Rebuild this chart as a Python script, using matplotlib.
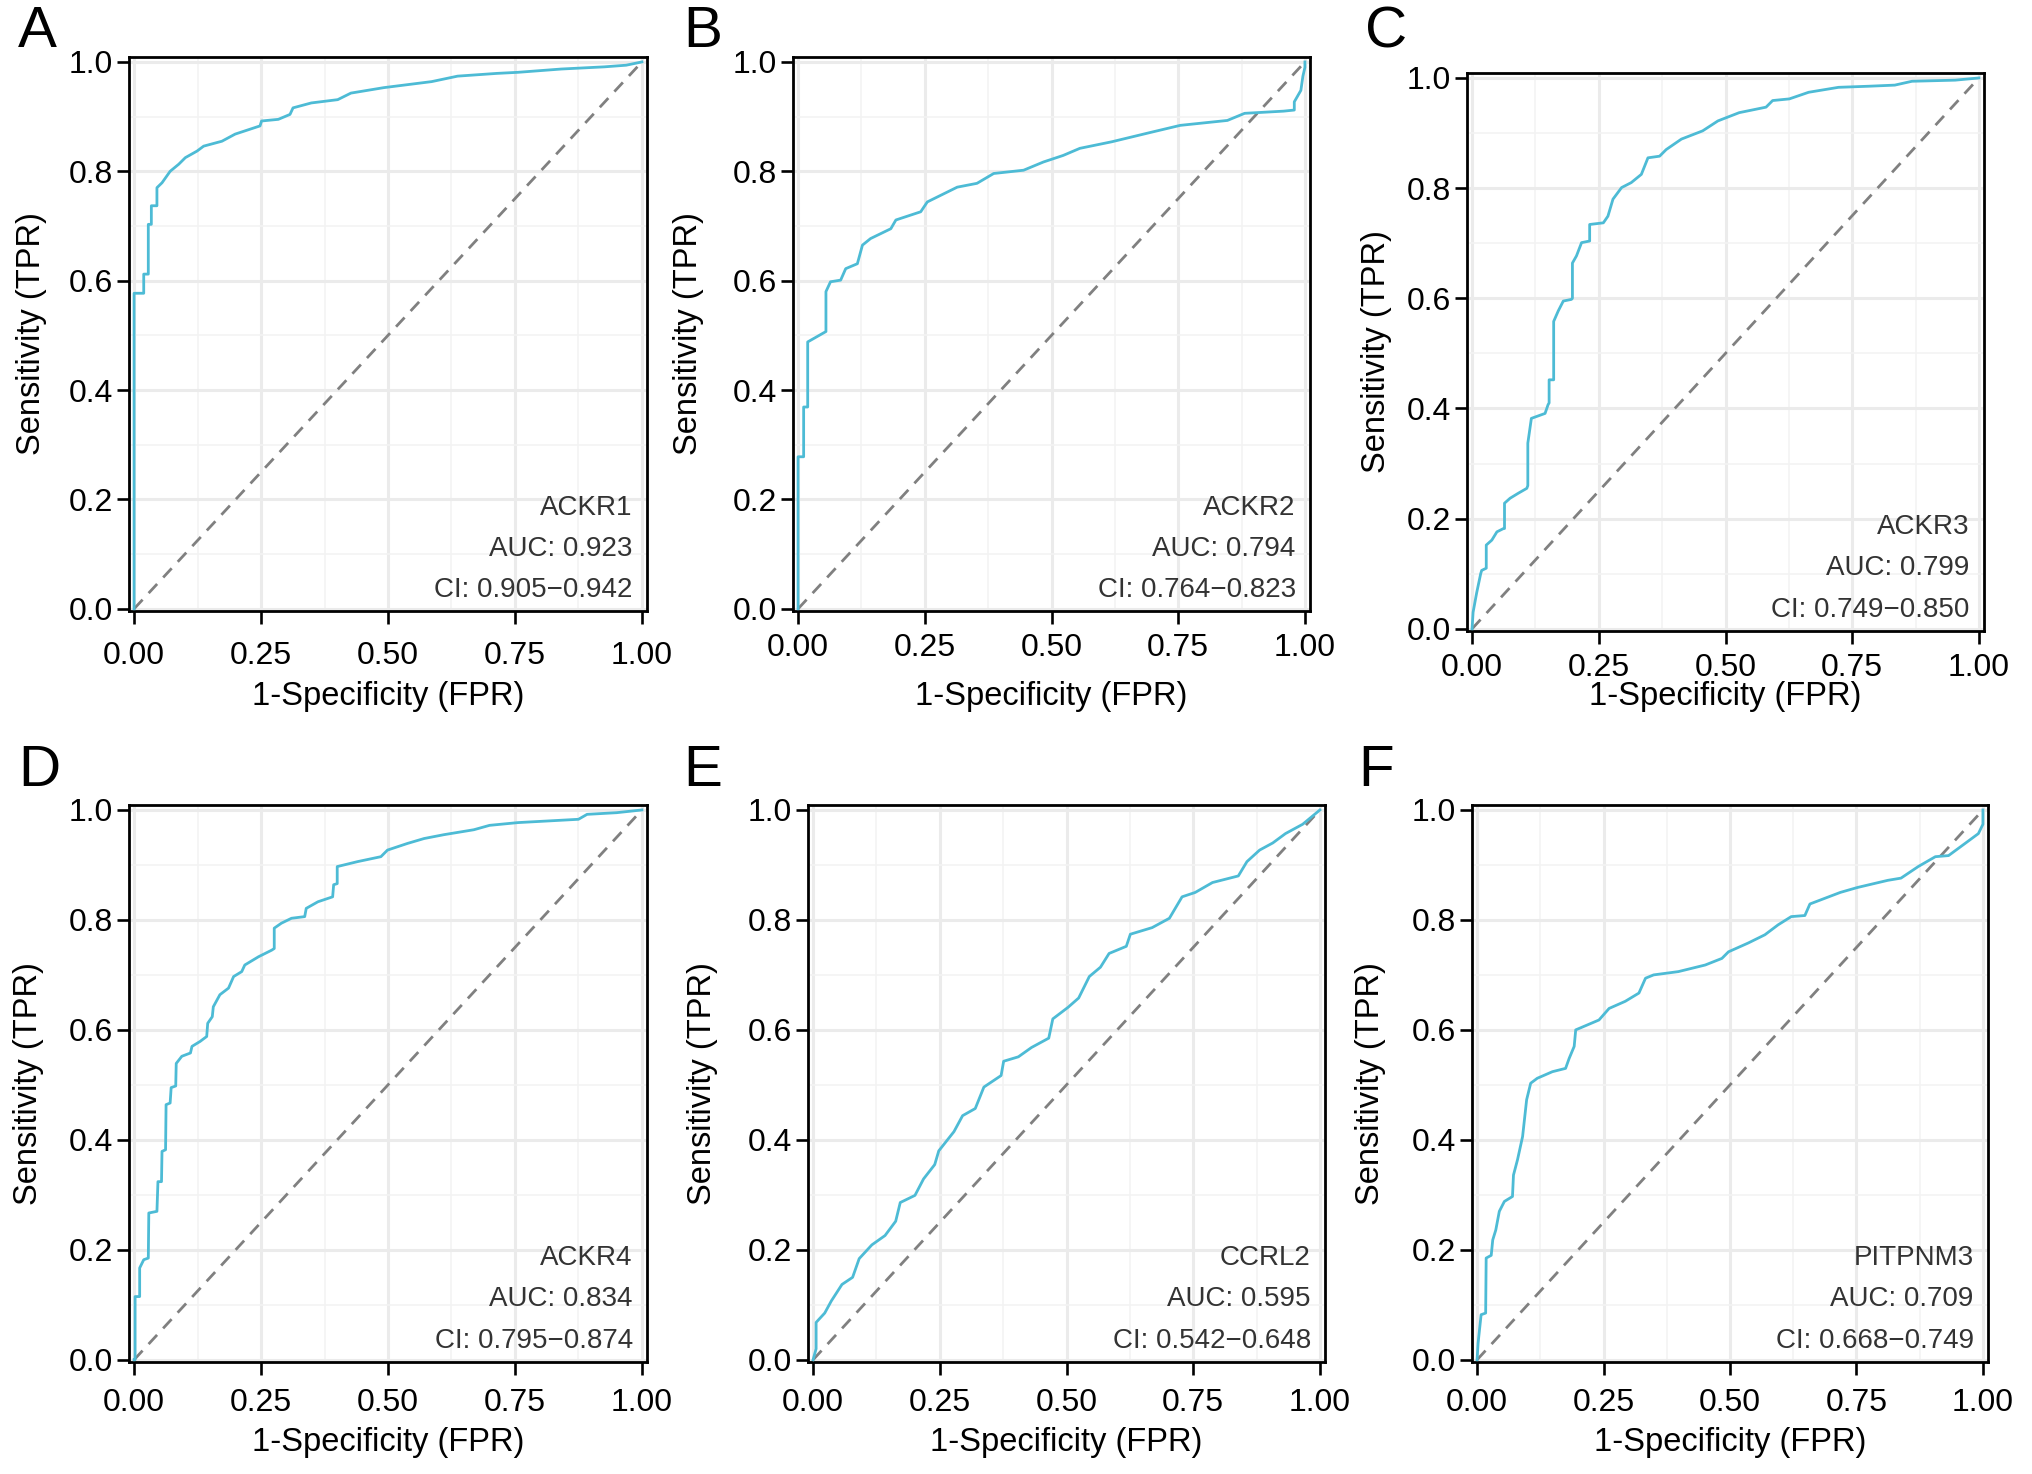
"""ROC curves of six genes (panels A-F)."""

import numpy as _np
import matplotlib
matplotlib.use('Agg')
import matplotlib.pyplot as _plt

_plt.rcParams['font.family'] = ['Liberation Sans', 'DejaVu Sans']

_W, _H = 2032, 1474
_line_color = '#4DBBD5'

# --- data ------------------------------------------------------------------
letters = ['A', 'B', 'C', 'D', 'E', 'F']
genes = ['ACKR1', 'ACKR2', 'ACKR3', 'ACKR4', 'CCRL2', 'PITPNM3']
auc = ['0.923', '0.794', '0.799', '0.834', '0.595', '0.709']
ci_low = ['0.905', '0.764', '0.749', '0.795', '0.542', '0.668']
ci_high = ['0.942', '0.823', '0.850', '0.874', '0.648', '0.749']

ackr1_fpr = [0, 0, 0.019, 0.019, 0.028, 0.028, 0.034, 0.034, 0.045, 0.045,
             0.055, 0.071, 0.088, 0.101, 0.124, 0.137, 0.173, 0.199, 0.248,
             0.251, 0.284, 0.307, 0.313, 0.349, 0.401, 0.427, 0.492, 0.586,
             0.637, 0.714, 0.756, 0.841, 0.926, 0.969, 1.0]
ackr1_tpr = [0, 0.577, 0.577, 0.612, 0.612, 0.703, 0.703, 0.737, 0.737, 0.770,
             0.779, 0.800, 0.813, 0.825, 0.837, 0.846, 0.855, 0.868, 0.883,
             0.892, 0.895, 0.904, 0.916, 0.925, 0.931, 0.943, 0.953, 0.964,
             0.974, 0.979, 0.981, 0.987, 0.991, 0.994, 1.0]

ackr2_fpr = [0, 0, 0.011, 0.011, 0.019, 0.019, 0.055, 0.055, 0.064, 0.084,
             0.094, 0.117, 0.127, 0.143, 0.183, 0.193, 0.242, 0.255, 0.314,
             0.353, 0.386, 0.445, 0.484, 0.523, 0.556, 0.619, 0.695, 0.754,
             0.847, 0.881, 0.958, 0.979, 0.979, 0.992, 0.996, 1.0, 1.0]
ackr2_tpr = [0, 0.278, 0.278, 0.369, 0.369, 0.488, 0.507, 0.580, 0.598, 0.601,
             0.622, 0.631, 0.665, 0.677, 0.695, 0.711, 0.726, 0.744, 0.771,
             0.778, 0.796, 0.802, 0.817, 0.829, 0.842, 0.854, 0.871, 0.884,
             0.893, 0.906, 0.910, 0.912, 0.927, 0.948, 0.974, 0.990, 1.0]

ackr3_fpr = [0, 0.002, 0.009, 0.017, 0.019, 0.028, 0.028, 0.039, 0.049, 0.062,
             0.064, 0.064, 0.075, 0.091, 0.108, 0.110, 0.110, 0.117, 0.144,
             0.150, 0.152, 0.152, 0.161, 0.161, 0.170, 0.180, 0.196, 0.198,
             0.198, 0.206, 0.216, 0.232, 0.232, 0.259, 0.268, 0.278, 0.295,
             0.314, 0.334, 0.347, 0.370, 0.383, 0.413, 0.455, 0.485, 0.527,
             0.580, 0.593, 0.626, 0.664, 0.723, 0.783, 0.834, 0.868, 0.953,
             1.0]
ackr3_tpr = [0, 0.030, 0.065, 0.100, 0.106, 0.110, 0.152, 0.161, 0.176, 0.182,
             0.182, 0.228, 0.237, 0.246, 0.255, 0.260, 0.337, 0.382, 0.391,
             0.407, 0.410, 0.452, 0.452, 0.558, 0.577, 0.595, 0.598, 0.600,
             0.664, 0.677, 0.701, 0.704, 0.734, 0.737, 0.749, 0.780, 0.801,
             0.810, 0.825, 0.855, 0.858, 0.870, 0.889, 0.904, 0.922, 0.937,
             0.947, 0.959, 0.962, 0.974, 0.983, 0.985, 0.987, 0.994, 0.996,
             1.0]

ackr4_fpr = [0, 0.002, 0.002, 0.011, 0.011, 0.019, 0.028, 0.029, 0.045, 0.047,
             0.054, 0.055, 0.062, 0.063, 0.071, 0.073, 0.082, 0.083, 0.094,
             0.111, 0.114, 0.130, 0.143, 0.145, 0.154, 0.156, 0.169, 0.186,
             0.196, 0.212, 0.218, 0.245, 0.271, 0.276, 0.276, 0.290, 0.310,
             0.336, 0.339, 0.362, 0.391, 0.393, 0.400, 0.400, 0.440, 0.486,
             0.499, 0.538, 0.571, 0.610, 0.669, 0.700, 0.756, 0.875, 0.892,
             0.950, 1.0]
ackr4_tpr = [0, 0, 0.115, 0.115, 0.167, 0.182, 0.185, 0.267, 0.270, 0.324,
             0.324, 0.379, 0.382, 0.464, 0.467, 0.495, 0.498, 0.539, 0.552,
             0.558, 0.570, 0.579, 0.588, 0.612, 0.624, 0.642, 0.664, 0.676,
             0.697, 0.706, 0.718, 0.733, 0.745, 0.748, 0.785, 0.794, 0.803,
             0.806, 0.821, 0.833, 0.842, 0.864, 0.866, 0.897, 0.906, 0.915,
             0.927, 0.939, 0.948, 0.955, 0.964, 0.972, 0.977, 0.983, 0.992,
             0.995, 1.0]

ccrl2_fpr = [0, 0.006, 0.006, 0.023, 0.036, 0.057, 0.078, 0.091, 0.116, 0.142,
             0.163, 0.172, 0.201, 0.218, 0.240, 0.248, 0.278, 0.295, 0.320,
             0.337, 0.371, 0.376, 0.405, 0.431, 0.465, 0.473, 0.503, 0.524,
             0.545, 0.567, 0.584, 0.618, 0.626, 0.669, 0.703, 0.728, 0.754,
             0.788, 0.839, 0.856, 0.881, 0.907, 0.932, 0.966, 1.0]
ccrl2_tpr = [0, 0.020, 0.068, 0.085, 0.107, 0.137, 0.150, 0.184, 0.209, 0.226,
             0.252, 0.286, 0.299, 0.329, 0.355, 0.380, 0.415, 0.444, 0.457,
             0.496, 0.517, 0.543, 0.551, 0.568, 0.585, 0.620, 0.641, 0.658,
             0.697, 0.714, 0.739, 0.752, 0.774, 0.786, 0.803, 0.842, 0.850,
             0.868, 0.880, 0.906, 0.927, 0.940, 0.957, 0.974, 1.0]

pitpnm3_fpr = [0, 0.002, 0.008, 0.017, 0.018, 0.028, 0.031, 0.037, 0.044,
               0.054, 0.070, 0.072, 0.080, 0.090, 0.098, 0.106, 0.119, 0.149,
               0.175, 0.182, 0.192, 0.195, 0.218, 0.241, 0.261, 0.293, 0.320,
               0.333, 0.349, 0.398, 0.451, 0.484, 0.497, 0.536, 0.569, 0.595,
               0.621, 0.648, 0.658, 0.718, 0.752, 0.812, 0.838, 0.872, 0.906,
               0.932, 0.966, 0.991, 1.0, 1.0]
pitpnm3_tpr = [0, 0.030, 0.082, 0.085, 0.185, 0.190, 0.218, 0.236, 0.270,
               0.288, 0.297, 0.336, 0.364, 0.406, 0.473, 0.503, 0.512, 0.524,
               0.530, 0.548, 0.570, 0.600, 0.609, 0.618, 0.639, 0.652, 0.667,
               0.694, 0.700, 0.706, 0.718, 0.730, 0.742, 0.758, 0.773, 0.791,
               0.806, 0.808, 0.829, 0.850, 0.859, 0.872, 0.876, 0.897, 0.915,
               0.917, 0.940, 0.957, 0.974, 1.0]

curves = [(ackr1_fpr, ackr1_tpr), (ackr2_fpr, ackr2_tpr),
          (ackr3_fpr, ackr3_tpr), (ackr4_fpr, ackr4_tpr),
          (ccrl2_fpr, ccrl2_tpr), (pitpnm3_fpr, pitpnm3_tpr)]

# --- layout (pixels) --------------------------------------------------------
# panel frames: left, right, top, bottom
_frames = [(129, 647, 57, 611), (793, 1310, 57, 611), (1467, 1984, 73, 631),
           (129, 647, 805, 1362), (808, 1325, 805, 1362),
           (1472, 1988, 805, 1362)]
# panel letters: left, baseline
_letter_pos = [(18, 47), (683, 47), (1365, 47), (18, 786), (683, 786),
               (1358, 786)]
# axis titles: y-label centre x, x-label centre y
_ylab_x = [32, 688, 1377, 29, 702, 1370]
_xlab_y = [696, 696, 696, 1442, 1442, 1442]
# x tick label pad (points)
_xpad = [12.6, 7.0, 7.0, 9.8, 9.8, 9.8]


def add_panel(fig, idx):
    """Draw one ROC panel."""
    left, right, top, bottom = _frames[idx]
    ax = fig.add_axes([left/_W, 1 - bottom/_H, (right - left)/_W,
                       (bottom - top)/_H])
    fpr, tpr = curves[idx]
    ax.plot([0, 1], [0, 1], color='#808080', lw=2.0,
            linestyle=(0, (4.5, 3.2)), zorder=2)
    ax.plot(fpr, tpr, color=_line_color, lw=2.0, zorder=3)
    ax.set_xlim(-0.01, 1.01)
    ax.set_ylim(-0.004, 1.009)
    ax.set_xticks([0, 0.25, 0.5, 0.75, 1.0])
    ax.set_xticklabels(['0.00', '0.25', '0.50', '0.75', '1.00'])
    ax.set_yticks([0, 0.2, 0.4, 0.6, 0.8, 1.0])
    ax.set_yticklabels(['0.0', '0.2', '0.4', '0.6', '0.8', '1.0'])
    ax.set_xticks([0.125, 0.375, 0.625, 0.875], minor=True)
    ax.set_yticks([0.1, 0.3, 0.5, 0.7, 0.9], minor=True)
    ax.grid(True, which='major', color='#EBEBEB', lw=2.2)
    ax.grid(True, which='minor', color='#F3F3F3', lw=1.2)
    ax.set_axisbelow(True)
    for sp in ax.spines.values():
        sp.set_linewidth(2.0)
        sp.set_color('black')
    ax.tick_params(which='major', direction='out', length=9, width=1.9,
                   labelsize=23, colors='black')
    ax.tick_params(axis='y', which='major', pad=2.5)
    ax.tick_params(axis='x', which='major', pad=_xpad[idx])
    ax.tick_params(which='minor', length=0)
    # axis titles
    fig.text((left + right)/2/_W, 1 - _xlab_y[idx]/_H, '1-Specificity (FPR)',
             ha='center', va='center', fontsize=23.5)
    fig.text(_ylab_x[idx]/_W, 1 - (top + bottom)/2/_H, 'Sensitivity (TPR)',
             ha='center', va='center', rotation=90, rotation_mode='anchor',
             fontsize=23.5)
    txt = [genes[idx], 'AUC: {}'.format(auc[idx]),
           'CI: {}\u2212{}'.format(ci_low[idx], ci_high[idx])]
    for t, y in zip(txt, [0.185, 0.11, 0.035]):
        ax.text(0.982, y, t, ha='right', va='center', fontsize=20,
                color='#333333')
    lx, ly = _letter_pos[idx]
    fig.text(lx/_W, 1 - ly/_H, letters[idx], ha='left', va='baseline',
             fontsize=42, color='black')
    return ax


fig = _plt.figure(figsize=(_W/100, _H/100), dpi=100)
for i in range(6):
    add_panel(fig, i)
fig.savefig('out.png', dpi=100, facecolor='white')
